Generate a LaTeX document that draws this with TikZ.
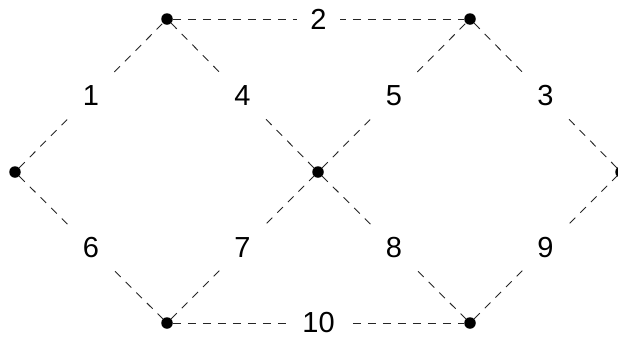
\documentclass[tikz,border=0pt]{standalone}
\usepackage{fontspec}
\setmainfont{Liberation Sans}
\begin{document}
\begin{tikzpicture}[x=1pt,y=-1pt,
  vtx/.style={circle,fill=black,inner sep=0pt,minimum size=11.5pt},
  edge/.style={draw=black!85,line width=0.9pt,dash pattern=on 8pt off 7pt},
  lbl/.style={fill=white,inner sep=13pt,font=\fontsize{29}{29}\selectfont}]
\useasboundingbox (0,0) rectangle (618,338);
\node[vtx] (L) at (15,172) {};
\node[vtx] (TL) at (167,19) {};
\node[vtx] (TR) at (470,19) {};
\node[vtx] (R) at (621,172) {};
\node[vtx] (BL) at (167,323) {};
\node[vtx] (BR) at (470,323) {};
\node[vtx] (C) at (318,172) {};
\draw[edge] (L) -- node[lbl] {1} (TL);
\draw[edge] (TL) -- node[lbl] {2} (TR);
\draw[edge] (TR) -- node[lbl] {3} (R);
\draw[edge] (TL) -- node[lbl] {4} (C);
\draw[edge] (C) -- node[lbl] {5} (TR);
\draw[edge] (L) -- node[lbl] {6} (BL);
\draw[edge] (BL) -- node[lbl] {7} (C);
\draw[edge] (C) -- node[lbl] {8} (BR);
\draw[edge] (BR) -- node[lbl] {9} (R);
\draw[edge] (BL) -- node[lbl] {10} (BR);
\end{tikzpicture}
\end{document}
